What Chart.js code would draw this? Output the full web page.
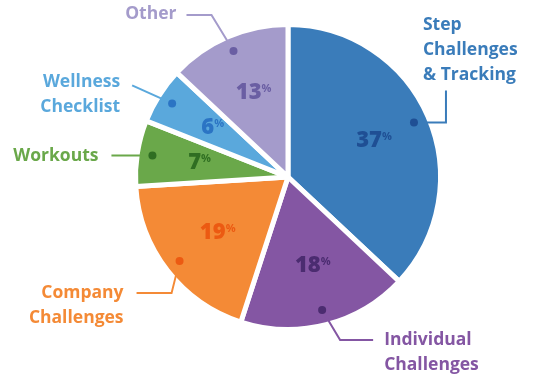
<!DOCTYPE html>
<html>
<head>
<meta charset="utf-8">
<script src="https://cdn.jsdelivr.net/npm/chart.js@4.4.1/dist/chart.umd.min.js"></script>
<style>
  html, body { margin: 0; padding: 0; background: #fff; }
  #wrap { width: 538px; height: 378px; position: relative; }
</style>
</head>
<body>
<div id="wrap"><canvas id="pieChart"></canvas></div>
<script>
// categories and shares (percent), clockwise from 12 o'clock
const categories = ["Step Challenges & Tracking", "Individual Challenges", "Company Challenges", "Workouts", "Wellness Checklist", "Other"];
const shares = [37, 18, 19, 7, 6, 13];
const labelLines = [
  ["Step", "Challenges", "& Tracking"],
  ["Individual", "Challenges"],
  ["Company", "Challenges"],
  ["Workouts"],
  ["Wellness", "Checklist"],
  ["Other"]
];

const sliceColors = ["#3a7cba", "#8456a3", "#f48a36", "#6aa84a", "#5aa8dc", "#a49bcb"];
const darkColors = ["#1f4f94", "#4b2c70", "#ec5a12", "#2f6e22", "#2b74c4", "#6a5ea3"];

// callout elbows, relative to the dot on each slice
const callouts = [
  { path: [[32, 0], [32, -32]], text: [9, -47], align: "left", anchor: "last" },
  { path: [[18, 30], [51, 30]], text: [62, 30], align: "left", anchor: "first" },
  { path: [[-8, 32], [-43, 32]], text: [-56, 32], align: "right", anchor: "first" },
  { path: [[-41, 0]], text: [-54, 0], align: "right", anchor: "first" },
  { path: [[-40, -18]], text: [-52, -21], align: "right", anchor: "first" },
  { path: [[-22, -36], [-47, -36]], text: [-57, -37], align: "right", anchor: "first" }
];

const FONT = "'Open Sans', sans-serif";

const sliceLabels = {
  id: "sliceLabels",
  afterDatasetsDraw(chart) {
    const ctx = chart.ctx;
    const arcs = chart.getDatasetMeta(0).data;
    arcs.forEach((arc, i) => {
      const p = arc.getProps(["x", "y", "startAngle", "endAngle", "outerRadius"], true);
      const mid = (p.startAngle + p.endAngle) / 2;
      const cos = Math.cos(mid), sin = Math.sin(mid);

      // percentage inside the slice
      const lx = p.x + cos * p.outerRadius * 0.6;
      const ly = p.y + sin * p.outerRadius * 0.6;
      ctx.save();
      ctx.fillStyle = darkColors[i];
      ctx.textBaseline = "middle";
      ctx.font = "800 22px " + FONT;
      const num = String(shares[i]);
      const nw = ctx.measureText(num).width;
      ctx.font = "700 11px " + FONT;
      const pw = ctx.measureText("%").width;
      const x0 = lx - (nw + pw) / 2 + 2;
      ctx.font = "800 22px " + FONT;
      ctx.textAlign = "left";
      ctx.fillText(num, x0, ly);
      ctx.font = "700 11px " + FONT;
      ctx.fillText("%", x0 + nw, ly - 4);
      ctx.restore();

      // callout dot, line and category name
      const dx = p.x + cos * p.outerRadius * 0.9;
      const dy = p.y + sin * p.outerRadius * 0.9;
      const c = callouts[i];
      ctx.save();
      ctx.strokeStyle = sliceColors[i];
      ctx.lineWidth = 2;
      ctx.beginPath();
      ctx.moveTo(dx, dy);
      c.path.forEach(pt => ctx.lineTo(dx + pt[0], dy + pt[1]));
      ctx.stroke();
      ctx.fillStyle = darkColors[i];
      ctx.beginPath();
      ctx.arc(dx, dy, 4, 0, Math.PI * 2);
      ctx.fill();

      const lines = labelLines[i];
      const lh = 25;
      let ty = dy + c.text[1];
      if (c.anchor === "last") ty -= (lines.length - 1) * lh;
      ctx.fillStyle = sliceColors[i];
      ctx.font = "700 17.5px " + FONT;
      ctx.textAlign = c.align;
      ctx.textBaseline = "middle";
      lines.forEach((t, k) => ctx.fillText(t, dx + c.text[0], ty + k * lh));
      ctx.restore();
    });
  }
};

new Chart(document.getElementById("pieChart"), {
  type: "pie",
  data: {
    labels: categories,
    datasets: [{
      data: shares,
      backgroundColor: sliceColors,
      borderColor: "#ffffff",
      borderWidth: 5
    }]
  },
  options: {
    responsive: true,
    maintainAspectRatio: false,
    animation: false,
    layout: { padding: { top: 22, bottom: 46, left: 38, right: 0 } },
    plugins: {
      legend: { display: false },
      tooltip: { enabled: false }
    }
  },
  plugins: [sliceLabels]
});
</script>
</body>
</html>
